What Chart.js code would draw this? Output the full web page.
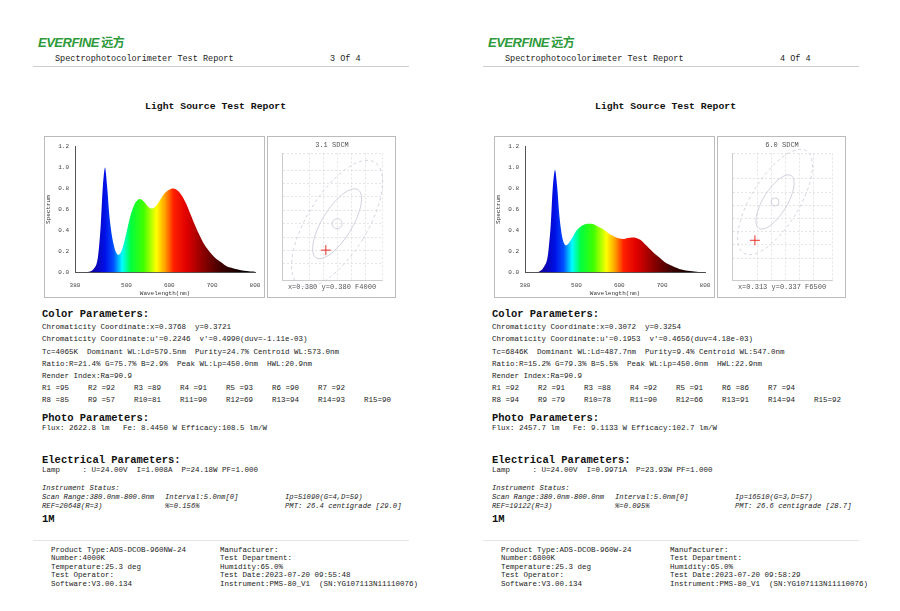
<!DOCTYPE html>
<html>
<head>
<meta charset="utf-8">
<script src="https://cdn.jsdelivr.net/npm/chart.js@4.4.0/dist/chart.umd.min.js"></script>
<style>
  body { margin: 0; background: #fff; width: 900px; height: 611px; overflow: hidden; font-family: "Liberation Mono", monospace; color: #222; }
  .page { position: absolute; top: 0; width: 450px; height: 611px; }
  .t { position: absolute; white-space: pre; font-size: 7.5px; line-height: 8px; }
  .h { font-weight: bold; font-size: 10.5px; line-height: 11px; color: #111; }
  .i { font-style: italic; font-size: 7.2px; }
  .logo { position: absolute; left: 38px; top: 33px; font-family: "Liberation Sans", sans-serif; font-weight: bold; font-style: italic; color: #2e9a3a; font-size: 13px; letter-spacing: -0.5px; }
  .rule { position: absolute; height: 1px; background: #ccc; }
  .box { position: absolute; border: 1px solid #bbb; background: #fff; }
  canvas { display: block; }
</style>
</head>
<body>
<div class="page" id="p0" style="left:0"></div>
<div class="page" id="p1" style="left:450px"></div>
<script>
// spectrum samples (nm, relative)
const wl4000 = [380,390,400,410,420,430,435,440,445,450,455,460,465,470,475,480,485,490,500,510,520,530,540,550,560,570,580,590,600,610,620,630,640,650,660,670,680,690,700,710,720,730,740,750,760,770,780,790,800];
const sp4000 = [0,0,0,0.005,0.02,0.08,0.2,0.45,0.82,1.0,0.82,0.55,0.38,0.27,0.2,0.17,0.18,0.22,0.38,0.55,0.66,0.70,0.68,0.63,0.61,0.64,0.70,0.76,0.79,0.80,0.78,0.73,0.65,0.55,0.45,0.36,0.28,0.22,0.17,0.13,0.10,0.07,0.05,0.04,0.03,0.02,0.015,0.01,0.008];
const wl6500 = [380,390,400,410,420,430,435,440,445,450,455,460,465,470,475,480,490,500,510,520,530,540,550,560,570,580,590,600,610,620,630,640,650,660,670,680,690,700,710,720,730,740,750,760,770,780,790,800];
const sp6500 = [0,0,0,0.005,0.03,0.1,0.22,0.45,0.82,0.98,0.82,0.55,0.38,0.29,0.26,0.27,0.33,0.40,0.44,0.46,0.465,0.46,0.44,0.42,0.39,0.36,0.34,0.325,0.32,0.33,0.335,0.33,0.31,0.27,0.23,0.19,0.155,0.12,0.09,0.07,0.05,0.035,0.025,0.018,0.012,0.008,0.005,0.004];
const xTicks = [380,500,600,700,800];
const yTicks = [0,0.2,0.4,0.6,0.8,1.0,1.2];
// chromaticity: measured point, ellipse centre, axis ranges
const chroma = [
  { pt: [0.3768, 0.3721], ctr: [0.380, 0.380], xr: [0.3643, 0.3928], yr: [0.363, 0.401], title: '3.1 SDCM', foot: 'x=0.380 y=0.380 F4000', r: [5, 15, 40, 30, 72] },
  { pt: [0.3072, 0.3254], ctr: [0.313, 0.337], xr: [0.3006, 0.3294], yr: [0.3132, 0.3517], title: '6.0 SDCM', foot: 'x=0.313 y=0.337 F6500', r: [4, 12, 31, 24, 60] }
];

const pages = [
  { pg: '3 Of 4', wl: wl4000, sp: sp4000,
    color: ['Chromaticity Coordinate:x=0.3768  y=0.3721', "Chromaticity Coordinate:u'=0.2246  v'=0.4990(duv=-1.11e-03)", 'Tc=4065K  Dominant WL:Ld=579.5nm  Purity=24.7% Centroid WL:573.0nm', 'Ratio:R=21.4% G=75.7% B=2.9%  Peak WL:Lp=450.0nm  HWL:20.9nm', 'Render Index:Ra=90.9'],
    r1: [95,92,89,91,93,90,92], r2: [85,57,81,90,69,94,93,90],
    flux: 'Flux: 2622.8 lm   Fe: 8.4450 W Efficacy:108.5 lm/W',
    lamp: 'Lamp     : U=24.00V  I=1.008A  P=24.18W PF=1.000',
    ip: 'Ip=51090(G=4,D=59)', ref: 'REF=20648(R=3)', pct: '%=0.156%', pmt: 'PMT: 26.4 centigrade [29.0]',
    foot: [['Product Type:ADS-DCOB-960NW-24', 'Manufacturer:'], ['Number:4000K', 'Test Department:'], ['Temperature:25.3 deg', 'Humidity:65.0%'], ['Test Operator:', 'Test Date:2023-07-20 09:55:48'], ['Software:V3.00.134', 'Instrument:PMS-80_V1  (SN:YG107113N11110076)']] },
  { pg: '4 Of 4', wl: wl6500, sp: sp6500,
    color: ['Chromaticity Coordinate:x=0.3072  y=0.3254', "Chromaticity Coordinate:u'=0.1953  v'=0.4656(duv=4.18e-03)", 'Tc=6846K  Dominant WL:Ld=487.7nm  Purity=9.4% Centroid WL:547.0nm', 'Ratio:R=15.2% G=79.3% B=5.5%  Peak WL:Lp=450.0nm  HWL:22.9nm', 'Render Index:Ra=90.9'],
    r1: [92,91,88,92,91,86,94], r2: [94,79,78,90,66,91,94,92],
    flux: 'Flux: 2457.7 lm   Fe: 9.1133 W Efficacy:102.7 lm/W',
    lamp: 'Lamp     : U=24.00V  I=0.9971A  P=23.93W PF=1.000',
    ip: 'Ip=16510(G=3,D=57)', ref: 'REF=19122(R=3)', pct: '%=0.095%', pmt: 'PMT: 26.6 centigrade [28.7]',
    foot: [['Product Type:ADS-DCOB-960W-24', 'Manufacturer:'], ['Number:6800K', 'Test Department:'], ['Temperature:25.3 deg', 'Humidity:65.0%'], ['Test Operator:', 'Test Date:2023-07-20 09:58:29'], ['Software:V3.00.134', 'Instrument:PMS-80_V1  (SN:YG107113N11110076)']] }
];

const addText = (el, x, y, txt, cls = 't') => {
  const d = document.createElement('div');
  d.className = cls;
  d.style.left = x + 'px';
  d.style.top = y + 'px';
  d.textContent = txt;
  el.appendChild(d);
  return d;
};

// wavelength -> colour stops for fill
const rainbow = [[380,'#1a0050'],[420,'#1000a0'],[450,'#0010e8'],[470,'#0050ff'],[490,'#00ffff'],[510,'#00ff40'],[540,'#40ff00'],[570,'#ffff00'],[590,'#ffa000'],[610,'#ff2000'],[640,'#e00000'],[680,'#8a0000'],[720,'#400000'],[780,'#000000'],[800,'#000000']];

const ellipsePlugin = {
  id: 'sdcm',
  afterDatasetsDraw(chart, args, c) {
    if (!c || !c.ctr) return;
    const { ctx, scales } = chart;
    const cx = scales.x.getPixelForValue(c.ctr[0]);
    const cy = scales.y.getPixelForValue(c.ctr[1]);
    ctx.save();
    ctx.strokeStyle = '#c4c6d8';
    ctx.lineWidth = 0.8;
    ctx.beginPath(); ctx.arc(cx, cy, c.r[0], 0, Math.PI * 2); ctx.stroke();
    ctx.beginPath(); ctx.ellipse(cx, cy, c.r[1], c.r[2], 0.55, 0, Math.PI * 2); ctx.stroke();
    ctx.setLineDash([3, 3]);
    ctx.beginPath(); ctx.ellipse(cx, cy, c.r[3], c.r[4], 0.55, 0, Math.PI * 2); ctx.stroke();
    ctx.restore();
  }
};

pages.forEach((p, idx) => {
  const el = document.getElementById('p' + idx);
  const logo = document.createElement('div');
  logo.className = 'logo';
  logo.innerHTML = 'EVERFINE<span style="font-family:\'Noto Sans CJK SC\';font-style:normal;font-size:12px"> 远方</span>';
  el.appendChild(logo);
  addText(el, 55, 55, 'Spectrophotocolorimeter Test Report', 't').style.fontSize = '8.5px';
  addText(el, 330, 55, p.pg, 't').style.fontSize = '8.5px';
  const rule = document.createElement('div');
  rule.className = 'rule'; rule.style.cssText += 'left:33px;top:66px;width:376px;';
  el.appendChild(rule);
  addText(el, 145, 101, 'Light Source Test Report', 't h').style.fontSize = '9.8px';

  // spectrum chart
  const b1 = document.createElement('div');
  b1.className = 'box'; b1.style.cssText += 'left:44px;top:136px;width:219px;height:160px;';
  const c1 = document.createElement('canvas');
  b1.appendChild(c1); el.appendChild(b1);
  new Chart(c1, {
    type: 'line',
    data: { datasets: [{
      data: p.wl.map((w, i) => ({ x: w, y: p.sp[i] })),
      borderWidth: 0, pointRadius: 0, tension: 0.3, fill: 'origin',
      backgroundColor: (ctx) => {
        const a = ctx.chart.chartArea;
        if (!a) return '#888';
        const sx = ctx.chart.scales.x;
        const g = ctx.chart.ctx.createLinearGradient(sx.getPixelForValue(380), 0, sx.getPixelForValue(800), 0);
        rainbow.forEach(([w, col]) => g.addColorStop((w - 380) / 420, col));
        return g;
      }
    }] },
    options: {
      responsive: true, maintainAspectRatio: false, animation: false,
      layout: { padding: { top: 8, right: 9, left: 0 } },
      plugins: { legend: { display: false }, tooltip: { enabled: false } },
      scales: {
        x: { type: 'linear', min: 380, max: 800, afterBuildTicks: (s) => { s.ticks = xTicks.map(v => ({ value: v })); },
             grid: { display: false }, border: { color: '#555' },
             ticks: { font: { family: 'Liberation Mono', size: 6 }, color: '#444', padding: 1, maxRotation: 0 },
             title: { display: true, text: 'Wavelength(nm)', font: { family: 'Liberation Mono', size: 6 }, color: '#333', padding: 0 } },
        y: { min: 0, max: 1.2, afterBuildTicks: (s) => { s.ticks = yTicks.map(v => ({ value: v })); },
             grid: { display: false, drawTicks: false }, border: { color: '#555' },
             ticks: { font: { family: 'Liberation Mono', size: 6 }, color: '#444', padding: 6, callback: v => v.toFixed(1) },
             title: { display: true, text: 'Spectrum', font: { family: 'Liberation Mono', size: 6 }, color: '#333', padding: 0 } }
      }
    }
  });

  // chromaticity / SDCM chart
  const c = chroma[idx];
  const b2 = document.createElement('div');
  b2.className = 'box'; b2.style.cssText += 'left:267px;top:136px;width:127px;height:160px;';
  const c2 = document.createElement('canvas');
  b2.appendChild(c2); el.appendChild(b2);
  new Chart(c2, {
    type: 'scatter',
    data: { datasets: [{ data: [{ x: c.pt[0], y: c.pt[1] }], pointStyle: 'cross', pointRadius: 5, borderColor: '#e8302a', borderWidth: 1 }] },
    options: {
      responsive: true, maintainAspectRatio: false, animation: false,
      layout: { padding: { left: 14, right: 13, top: 0, bottom: 0 } },
      plugins: { legend: { display: false }, tooltip: { enabled: false }, sdcm: c,
        title: { display: true, text: c.title, font: { family: 'Liberation Mono', size: 7, weight: 'normal' }, color: '#555', padding: { top: 4, bottom: 4 } },
        subtitle: { display: true, position: 'bottom', text: c.foot, font: { family: 'Liberation Mono', size: 7 }, color: '#555', padding: { top: 2, bottom: 6 } } },
      scales: {
        x: { min: c.xr[0], max: c.xr[1], ticks: { display: false, stepSize: 0.004 },
             grid: { color: '#d4d4d4', lineWidth: 0.6, drawTicks: false }, border: { color: '#ccc', dash: [2, 2] } },
        y: { min: c.yr[0], max: c.yr[1], ticks: { display: false, stepSize: 0.004 },
             grid: { color: '#d4d4d4', lineWidth: 0.6, drawTicks: false }, border: { color: '#ccc', dash: [2, 2] } }
      }
    },
    plugins: [ellipsePlugin]
  });

  // parameter text
  addText(el, 42, 309, 'Color Parameters:', 't h');
  p.color.forEach((l, i) => addText(el, 42, 323 + i * 12.3, l));
  [p.r1, p.r2].forEach((row, j) => row.forEach((v, i) => {
    const n = j * 7 + i + 1;
    addText(el, 42 + i * 46, 384 + j * 12.3, ('R' + n + (n < 10 ? ' ' : '')) + '=' + v);
  }));
  addText(el, 42, 413, 'Photo Parameters:', 't h');
  addText(el, 42, 424, p.flux);
  addText(el, 42, 455, 'Electrical Parameters:', 't h');
  addText(el, 42, 466, p.lamp);
  addText(el, 42, 484, 'Instrument Status:', 't i');
  addText(el, 42, 493, 'Scan Range:380.0nm-800.0nm', 't i');
  addText(el, 165, 493, 'Interval:5.0nm[0]', 't i');
  addText(el, 285, 493, p.ip, 't i');
  addText(el, 42, 502, p.ref, 't i');
  addText(el, 165, 502, p.pct, 't i');
  addText(el, 285, 502, p.pmt, 't i');
  addText(el, 42, 514, '1M', 't h');
  const r2 = document.createElement('div');
  r2.className = 'rule'; r2.style.cssText += 'left:33px;top:540px;width:376px;background:#e4e4e4;';
  el.appendChild(r2);
  p.foot.forEach((pair, i) => {
    addText(el, 51, 546 + i * 8.4, pair[0]);
    addText(el, 220, 546 + i * 8.4, pair[1]);
  });
});
</script>
</body>
</html>
